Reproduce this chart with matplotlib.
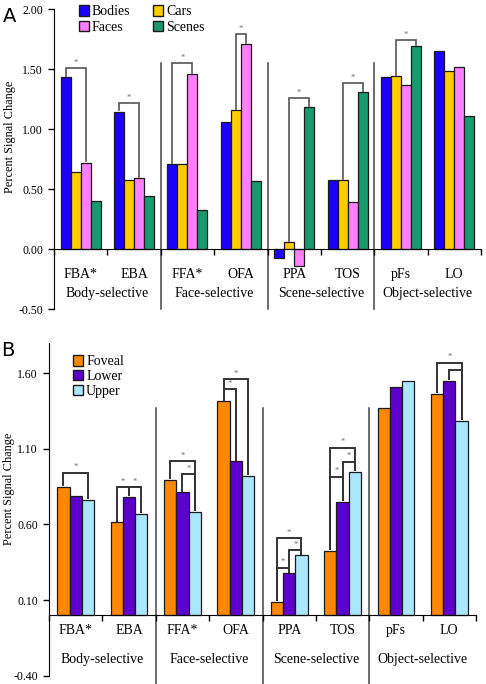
import matplotlib
matplotlib.use("Agg")
import matplotlib.pyplot as plt
from matplotlib.patches import Patch

plt.rcParams['font.family'] = ['Liberation Serif', 'DejaVu Serif']

regions = ["FBA*", "EBA", "FFA*", "OFA", "PPA", "TOS", "pFs", "LO"]
groups = ["Body-selective", "Face-selective", "Scene-selective", "Object-selective"]

# panel A: response to each stimulus category
cat_names = ["Bodies", "Cars", "Faces", "Scenes"]
cat_colors = ["#1c00ff", "#ffcc00", "#ff80ff", "#169a6e"]
bodies = [1.43, 1.145, 0.71, 1.06, -0.075, 0.575, 1.43, 1.65]
cars = [0.645, 0.577, 0.707, 1.16, 0.058, 0.577, 1.44, 1.48]
faces = [0.72, 0.59, 1.46, 1.71, -0.14, 0.39, 1.37, 1.52]
scenes = [0.40, 0.444, 0.325, 0.566, 1.18, 1.305, 1.69, 1.105]
# (region, bar from, bar to, bracket level)
sig_a = [(0, 0, 2, 1.51), (1, 0, 2, 1.22), (2, 0, 2, 1.55), (3, 1, 2, 1.79),
         (4, 1, 3, 1.255), (5, 1, 3, 1.38), (6, 1, 3, 1.745)]

# panel B: response by visual field position
pos_names = ["Foveal", "Lower", "Upper"]
pos_colors = ["#ff8800", "#5c00cc", "#aae6ff"]
foveal = [0.85, 0.614, 0.895, 1.415, 0.089, 0.427, 1.373, 1.464]
lower = [0.79, 0.782, 0.813, 1.018, 0.276, 0.749, 1.506, 1.552]
upper = [0.762, 0.67, 0.683, 0.923, 0.395, 0.948, 1.548, 1.287]
# (region, bar from, bar to, bracket level, star)
sig_b = [(0, 0, 2, 0.943, True),
         (1, 0, 1, 0.846, True), (1, 1, 2, 0.846, True),
         (2, 0, 2, 1.018, True), (2, 1, 2, 0.934, True),
         (3, 0, 2, 1.559, True), (3, 0, 1, 1.493, True),
         (4, 0, 2, 0.508, True), (4, 1, 2, 0.431, True), (4, 0, 1, 0.314, True),
         (5, 0, 2, 1.107, True), (5, 1, 2, 1.016, True), (5, 0, 1, 0.917, True),
         (7, 0, 2, 1.669, True), (7, 1, 2, 1.619, False)]


def draw_panel(ax, series, colors, width, sigs, yticks, ylim, sep_top, sep_bot,
               lab_y, grp_y, bcolor, blw):
    n = len(series)
    xs = [i + 0.5 for i in range(len(regions))]
    offs = [(k - (n - 1) / 2) * width for k in range(n)]
    for k, vals in enumerate(series):
        ax.bar([x + offs[k] for x in xs], vals, width, color=colors[k],
               edgecolor="#1a1a1a", linewidth=0.9, zorder=2)

    for sig in sigs:
        r, i, j, h = sig[:4]
        star = sig[4] if len(sig) > 4 else True
        x1, x2 = xs[r] + offs[i], xs[r] + offs[j]
        y1 = max(series[i][r], 0) + 0.01
        y2 = max(series[j][r], 0) + 0.01
        ax.plot([x1, x1, x2, x2], [y1, h, h, y2], color=bcolor, lw=blw,
                zorder=3, solid_joinstyle="miter")
        if star:
            ax.text((x1 + x2) / 2, h + 0.01, "*", ha="center", va="bottom",
                    fontsize=6, color="#666666")

    for s in [2, 4, 6]:
        ax.plot([s, s], [sep_bot, sep_top], color="#444444", lw=1.1,
                clip_on=False, zorder=1)

    for i, name in enumerate(regions):
        ax.text(xs[i], lab_y, name, ha="center", va="center", fontsize=10)
    for g, name in enumerate(groups):
        ax.text(2 * g + 1, grp_y, name, ha="center", va="center", fontsize=10)

    ax.set_xlim(0, 8)
    ax.set_ylim(*ylim)
    ax.set_xticks(range(9))
    ax.set_xticklabels([])
    ax.set_yticks(yticks)
    ax.set_yticklabels(["%.2f" % t for t in yticks], fontsize=8.5)
    ax.spines["bottom"].set_position(("data", 0))
    ax.spines["top"].set_visible(False)
    ax.spines["right"].set_visible(False)
    ax.tick_params(axis="both", direction="out", length=4, width=1, pad=4)
    ax.set_ylabel("Percent Signal Change", fontsize=8.8)


fig = plt.figure(figsize=(4.86, 6.84), dpi=100)

ax_a = fig.add_axes([54 / 486, 1 - 309 / 684, 427 / 486, 300 / 684])
draw_panel(ax_a, [bodies, cars, faces, scenes], cat_colors, 0.1875, sig_a,
           [-0.5, 0.0, 0.5, 1.0, 1.5, 2.0], (-0.5, 2.0), 1.55, -0.5,
           -0.214, -0.373, "#555555", 1.2)
ax_a.yaxis.set_label_coords(-0.089, 0.573)
handles = [Patch(facecolor=cat_colors[k], edgecolor="#1a1a1a", label=cat_names[k])
           for k in [0, 2, 1, 3]]
ax_a.legend(handles=handles, ncol=2, loc="upper left", bbox_to_anchor=(0.058, 1.012),
            frameon=False, fontsize=10, handlelength=0.75, handleheight=0.75,
            handletextpad=0.2, columnspacing=1.6, labelspacing=0.16,
            borderpad=0, borderaxespad=0)
fig.text(10 / 486, 1 - 16 / 684, "A", fontsize=14, family="DejaVu Sans",
         ha="center", va="center")

ax_b = fig.add_axes([49 / 486, 1 - 675.7 / 684, 427 / 486, 332.7 / 684])
draw_panel(ax_b, [foveal, lower, upper], pos_colors, 0.23, sig_b,
           [-0.40, 0.10, 0.60, 1.10, 1.60], (-0.40, 1.80), 1.37, -0.46,
           -0.099, -0.291, "#333333", 1.4)
ax_b.yaxis.set_label_coords(-0.08, 0.562)
handles = [Patch(facecolor=pos_colors[k], edgecolor="#1a1a1a", label=pos_names[k])
           for k in range(3)]
ax_b.legend(handles=handles, loc="upper left", bbox_to_anchor=(0.056, 0.963),
            frameon=False, fontsize=10, handlelength=0.75, handleheight=0.75,
            handletextpad=0.2, labelspacing=0.14, borderpad=0, borderaxespad=0)
fig.text(8 / 486, 1 - 351 / 684, "B", fontsize=14, family="DejaVu Sans",
         ha="center", va="center")

fig.savefig("out.png", dpi=100)
